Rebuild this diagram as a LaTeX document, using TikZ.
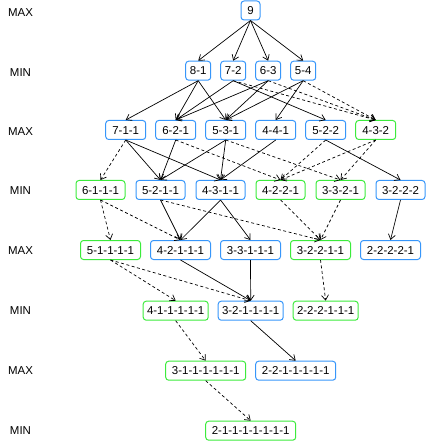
\documentclass[tikz,border=0pt]{standalone}
\usepackage{fontspec}
\setmainfont{Liberation Sans}
\usetikzlibrary{arrows.meta}
\definecolor{bbox}{RGB}{55,150,250}
\definecolor{gbox}{RGB}{60,235,60}
\begin{document}
\begin{tikzpicture}[x=1bp,y=-1bp,
  every node/.style={font=\fontsize{11.5}{13}\selectfont},
  box/.style={draw=bbox,line width=1bp,rounded corners=3bp,minimum height=19bp,inner xsep=0pt,inner ysep=0pt,text height=8.2bp,text depth=0bp},
  gb/.style={box,draw=gbox},
  w0/.style={minimum width=19bp},
  w1/.style={minimum width=25bp},
  w2/.style={minimum width=40bp},
  w3/.style={minimum width=49bp},
  w4/.style={minimum width=60bp},
  w5/.style={minimum width=65bp},
  w6/.style={minimum width=80bp},
  w7/.style={minimum width=90bp},
  lvl/.style={anchor=center},
  e/.style={line width=0.7bp,-{Straight Barb[length=5bp,width=7bp]}},
  d/.style={e,dash pattern=on 3bp off 2.5bp}]
\useasboundingbox (0,0) rectangle (426,442);
% level labels
\node[lvl] (l0) at (20.5,12.5) {MAX};
\node[lvl] (l1) at (20.5,72.5) {MIN};
\node[lvl] (l2) at (20.5,131.5) {MAX};
\node[lvl] (l3) at (20.5,190.5) {MIN};
\node[lvl] (l4) at (20.5,251) {MAX};
\node[lvl] (l5) at (20.5,311) {MIN};
\node[lvl] (l6) at (20.5,371) {MAX};
\node[lvl] (l7) at (20.5,431) {MIN};
% nodes
\node[box,w0] (n9) at (250.5,10.5) {9};
\node[box,w1] (a81) at (198.2,70.7) {8-1};
\node[box,w1] (a72) at (233.2,70.7) {7-2};
\node[box,w1] (a63) at (268.2,70.7) {6-3};
\node[box,w1] (a54) at (303.2,70.7) {5-4};
\node[box,w2] (b711) at (125.7,130) {7-1-1};
\node[box,w2] (b621) at (175.7,130) {6-2-1};
\node[box,w2] (b531) at (225.7,130) {5-3-1};
\node[box,w2] (b441) at (275.7,130) {4-4-1};
\node[box,w2] (b522) at (325.7,130) {5-2-2};
\node[gb,w2] (b432) at (375.7,130) {4-3-2};
\node[gb,w3] (c6111) at (100.5,190) {6-1-1-1};
\node[box,w3] (c5211) at (160.5,190) {5-2-1-1};
\node[box,w3] (c4311) at (220.5,190) {4-3-1-1};
\node[gb,w3] (c4221) at (280.5,190) {4-2-2-1};
\node[gb,w3] (c3321) at (340.5,190) {3-3-2-1};
\node[box,w3] (c3222) at (400.5,190) {3-2-2-2};
\node[gb,w4] (d51111) at (110.5,250) {5-1-1-1-1};
\node[box,w4] (d42111) at (180.5,250) {4-2-1-1-1};
\node[box,w4] (d33111) at (250.5,250) {3-3-1-1-1};
\node[gb,w4] (d32211) at (320.5,250) {3-2-2-1-1};
\node[box,w4] (d22221) at (390.5,250) {2-2-2-2-1};
\node[gb,w5] (e4) at (175.7,310.7) {4-1-1-1-1-1};
\node[box,w5] (e3) at (250.7,310.7) {3-2-1-1-1-1};
\node[gb,w5] (e2) at (325.7,310.7) {2-2-2-1-1-1};
\node[gb,w6] (f3) at (205.7,370.7) {3-1-1-1-1-1-1};
\node[box,w6] (f2) at (295.7,370.7) {2-2-1-1-1-1-1};
\node[gb,w7] (g2) at (250.7,430.7) {2-1-1-1-1-1-1-1};
% edges
\foreach \t in {a81,a72,a63,a54} \draw[e] (n9.south) -- (\t.north);
\foreach \t in {b711,b621,b531} \draw[e] (a81.south) -- (\t.north);
\foreach \t in {b621,b522} \draw[e] (a72.south) -- (\t.north);
\draw[d] (a72.south) -- (b432.north);
\foreach \t in {b621,b531} \draw[e] (a63.south) -- (\t.north);
\draw[d] (a63.south) -- (b432.north);
\foreach \t in {b531,b441} \draw[e] (a54.south) -- (\t.north);
\draw[d] (a54.south) -- (b432.north);
\draw[d] (b711.south) -- (c6111.north);
\foreach \t in {c5211,c4311} \draw[e] (b711.south) -- (\t.north);
\draw[e] (b621.south) -- (c5211.north);
\draw[d] (b621.south) -- (c4221.north);
\foreach \t in {c5211,c4311} \draw[e] (b531.south) -- (\t.north);
\draw[d] (b531.south) -- (c3321.north);
\draw[e] (b441.south) -- (c4311.north);
\draw[d] (b522.south) -- (c4221.north);
\draw[e] (b522.south) -- (c3222.north);
\foreach \t in {c4221,c3321} \draw[d] (b432.south) -- (\t.north);
\foreach \t in {d51111,d42111} \draw[d] (c6111.south) -- (\t.north);
\draw[e] (c5211.south) -- (d42111.north);
\draw[d] (c5211.south) -- (d32211.north);
\foreach \t in {d42111,d33111} \draw[e] (c4311.south) -- (\t.north);
\draw[d] (c4221.south) -- (d32211.north);
\draw[d] (c3321.south) -- (d32211.north);
\draw[e] (c3222.south) -- (d22221.north);
\foreach \t in {e4,e3} \draw[d] (d51111.south) -- (\t.north);
\draw[e] (d42111.south) -- (e3.north);
\draw[e] (d33111.south) -- (e3.north);
\draw[d] (d32211.south) -- (e2.north);
\draw[d] (e4.south) -- (f3.north);
\draw[e] (e3.south) -- (f2.north);
\draw[d] (f3.south) -- (g2.north);
\end{tikzpicture}
\end{document}
